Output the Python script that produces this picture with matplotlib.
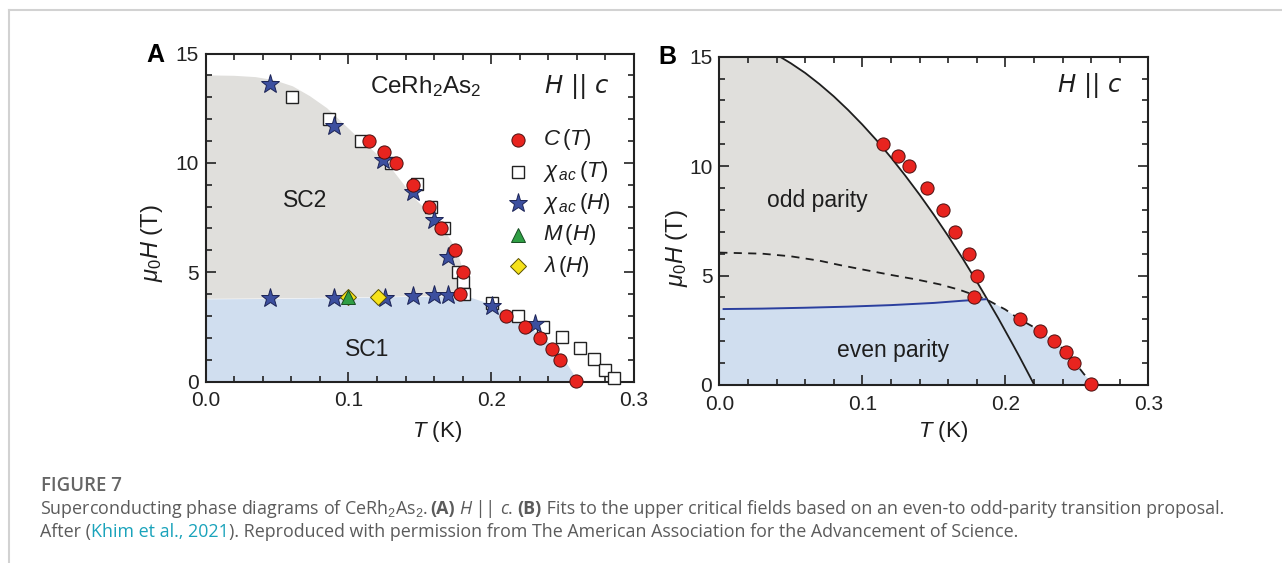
import matplotlib
matplotlib.use('Agg')
import matplotlib.pyplot as plt
from matplotlib.ticker import MultipleLocator, FormatStrFormatter

plt.rcParams['font.family'] = ['Liberation Sans', 'DejaVu Sans']
plt.rcParams['mathtext.fontset'] = 'custom'
plt.rcParams['mathtext.rm'] = 'Liberation Sans'
plt.rcParams['mathtext.it'] = 'Liberation Sans:italic'
plt.rcParams['mathtext.bf'] = 'Liberation Sans:bold'

# ---------------- data (T in K, mu0H in T) ----------------
C_T = [0.1147, 0.1250, 0.1330, 0.1450, 0.1566, 0.1650, 0.1748, 0.1805, 0.1780,
       0.2100, 0.2240, 0.2340, 0.2425, 0.2483, 0.2596]
C_H = [11.0, 10.48, 10.0, 8.98, 7.99, 7.0, 6.0, 4.99, 4.0, 3.0, 2.49, 2.0, 1.5, 1.0, 0.03]

chiT_T = [0.0603, 0.0867, 0.1090, 0.1297, 0.1480, 0.1580, 0.1666, 0.1765, 0.1800,
          0.1807, 0.2005, 0.2188, 0.2363, 0.2496, 0.2620, 0.2718, 0.2800, 0.2858]
chiT_H = [13.0, 12.0, 11.0, 9.98, 9.02, 8.0, 7.0, 5.02, 4.53, 4.0, 3.6, 3.0, 2.5,
          2.02, 1.52, 1.01, 0.53, 0.15]

chiH_T = [0.045, 0.090, 0.1245, 0.145, 0.1596, 0.170, 0.045, 0.090, 0.1257, 0.145,
          0.1596, 0.170, 0.2005, 0.2305]
chiH_H = [13.6, 11.68, 10.13, 8.65, 7.38, 5.71, 3.82, 3.82, 3.82, 3.91, 3.95, 3.95,
          3.45, 2.63]

M_T = [0.100]
M_H = [3.88]
lam_T = [0.100, 0.1206]
lam_H = [3.85, 3.86]

# panel A phase regions
A_sc1_top_T = [0.0, 0.05, 0.10, 0.15, 0.184, 0.195, 0.21, 0.225, 0.24, 0.25, 0.257, 0.260]
A_sc1_top_H = [3.78, 3.80, 3.84, 3.90, 3.88, 3.65, 3.2, 2.6, 1.8, 1.1, 0.4, 0.0]
A_sc2_edge_T = [0.0, 0.02, 0.035, 0.048, 0.061, 0.073, 0.085, 0.106, 0.127, 0.146,
                0.1655, 0.176, 0.1835, 0.184]
A_sc2_edge_H = [14.0, 13.98, 13.92, 13.78, 13.5, 13.05, 12.5, 11.2, 10.0, 8.4,
                7.1, 6.0, 4.4, 3.88]

# panel B fit curves
B_odd_T = [0.0424, 0.05, 0.06, 0.07, 0.08, 0.09, 0.10, 0.11, 0.12, 0.13, 0.14, 0.15,
           0.16, 0.17, 0.18, 0.185, 0.195, 0.20, 0.205, 0.21, 0.215, 0.2203]
B_odd_H = [15.0, 14.70, 14.26, 13.75, 13.19, 12.57, 11.90, 11.18, 10.40, 9.57, 8.70,
           7.78, 6.81, 5.80, 4.73, 4.18, 3.06, 2.47, 1.88, 1.28, 0.66, 0.0]
B_even_T = [0.0, 0.03, 0.05, 0.07, 0.085, 0.10, 0.12, 0.138, 0.154, 0.168, 0.1865,
            0.20, 0.21, 0.224, 0.234, 0.243, 0.249, 0.255, 0.262]
B_even_H = [6.05, 6.0, 5.88, 5.68, 5.47, 5.28, 5.03, 4.82, 4.6, 4.35, 3.92, 3.45,
            3.0, 2.5, 2.0, 1.5, 1.0, 0.5, 0.0]
B_trans_T = [0.003, 0.03, 0.06, 0.09, 0.12, 0.15, 0.17, 0.1865]
B_trans_H = [3.47, 3.49, 3.53, 3.58, 3.65, 3.75, 3.85, 3.92]

legend_labels = [r'$C\,(T)$', r'$\chi_{\,ac}\,(T)$', r'$\chi_{\,ac}\,(H)$',
                 r'$M\,(H)$', r'$\lambda\,(H)$']

# ---------------- styles ----------------
GRAY = '#e0dfdc'
BLUE = '#d0deef'
RED = '#e8241f'
STAR = '#3c4f9f'
GREEN = '#2f9e44'
YELLOW = '#f6e21a'

W, H = 1282, 563
fig = plt.figure(figsize=(W / 100, H / 100), dpi=100)


def px_axes(l, t, r, b):
    return fig.add_axes([l / W, 1 - b / H, (r - l) / W, (b - t) / H])


axA = px_axes(205.7, 53.5, 634.0, 381.5)
axB = px_axes(719.3, 56.7, 1148.3, 385.0)


def style(ax):
    ax.set_xlim(0, 0.3)
    ax.set_ylim(0, 15)
    ax.xaxis.set_major_locator(MultipleLocator(0.1))
    ax.xaxis.set_minor_locator(MultipleLocator(0.02))
    ax.yaxis.set_major_locator(MultipleLocator(5))
    ax.yaxis.set_minor_locator(MultipleLocator(1))
    ax.xaxis.set_major_formatter(FormatStrFormatter('%.1f'))
    ax.yaxis.set_major_formatter(FormatStrFormatter('%d'))
    ax.tick_params(which='both', direction='in', top=True, right=True,
                   width=1.2, color='#222222', labelsize=15, labelcolor='#222222')
    ax.tick_params(which='major', length=7)
    ax.tick_params(which='minor', length=4)
    ax.tick_params(axis='x', pad=7)
    ax.tick_params(axis='y', pad=5)
    for s in ax.spines.values():
        s.set_linewidth(1.5)
        s.set_color('#222222')


style(axA)
style(axB)

HC_FONT = ['DejaVu Sans']

# ---------------- panel A ----------------
axA.fill_between(A_sc1_top_T, 0, A_sc1_top_H, color=BLUE, lw=0, zorder=0)
sc2_x = list(A_sc2_edge_T) + [A_sc1_top_T[i] for i in range(4, -1, -1)]
sc2_y = list(A_sc2_edge_H) + [A_sc1_top_H[i] for i in range(4, -1, -1)]
axA.fill(sc2_x, sc2_y, color=GRAY, lw=0, zorder=0)

axA.plot(chiT_T, chiT_H, ls='none', marker='s', ms=8, mfc='white', mec='#222222',
         mew=1.0, zorder=3, clip_on=False)
axA.plot(chiH_T, chiH_H, ls='none', marker='*', ms=14, mfc=STAR, mec='#1c2456',
         mew=0.7, zorder=4, clip_on=False)
axA.plot(C_T, C_H, ls='none', marker='o', ms=9.5, mfc=RED, mec='#4a1010',
         mew=0.7, zorder=5, clip_on=False)
axA.plot(lam_T, lam_H, ls='none', marker='D', ms=8.5, mfc=YELLOW, mec='#5a5000',
         mew=0.7, zorder=6, clip_on=False)
axA.plot(M_T, M_H, ls='none', marker='^', ms=10, mfc=GREEN, mec='#174d22',
         mew=0.7, zorder=7, clip_on=False)

axA.text(0.513, 0.90, r'CeRh$_2$As$_2$', transform=axA.transAxes, ha='center',
         va='center', fontsize=17.5, color='#1e1e1e')
axA.text(0.867, 0.90, 'H || c', transform=axA.transAxes, ha='center', va='center',
         fontsize=17.5, style='oblique', family=HC_FONT, color='#1e1e1e')
axA.text(0.232, 0.553, 'SC2', transform=axA.transAxes, ha='center', va='center',
         fontsize=16.5, color='#1e1e1e')
axA.text(0.377, 0.099, 'SC1', transform=axA.transAxes, ha='center', va='center',
         fontsize=16.5, color='#1e1e1e')

# legend (manual)
leg_styles = [dict(marker='o', ms=9.5, mfc=RED, mec='#4a1010', mew=0.7),
              dict(marker='s', ms=8, mfc='white', mec='#222222', mew=1.0),
              dict(marker='*', ms=14, mfc=STAR, mec='#1c2456', mew=0.7),
              dict(marker='^', ms=10, mfc=GREEN, mec='#174d22', mew=0.7),
              dict(marker='D', ms=8.5, mfc=YELLOW, mec='#5a5000', mew=0.7)]
for i, (lab, st) in enumerate(zip(legend_labels, leg_styles)):
    ypix = 140 + 31.6 * i
    yf = (381.5 - ypix) / 328.0
    axA.plot([0.729], [yf], ls='none', transform=axA.transAxes, clip_on=False, **st)
    axA.text(0.7875, yf, lab, transform=axA.transAxes, ha='left', va='center',
             fontsize=16, color='#1e1e1e')

# ---------------- panel B ----------------
cross_i = B_odd_T.index(0.185)
g_x = [0.0, 0.0] + B_odd_T[:cross_i + 1] + B_trans_T[::-1] + [0.0]
g_y = [B_trans_H[0], 15.0] + B_odd_H[:cross_i + 1] + B_trans_H[::-1] + [B_trans_H[0]]
axB.fill(g_x, g_y, color=GRAY, lw=0, zorder=0)
k = B_even_T.index(0.1865)
b_x = [0.0, 0.0] + B_trans_T + B_even_T[k + 1:]
b_y = [0.0, B_trans_H[0]] + B_trans_H + B_even_H[k + 1:]
axB.fill(b_x, b_y, color=BLUE, lw=0, zorder=0)

axB.plot(B_odd_T, B_odd_H, color='#1e1e1e', lw=1.3, zorder=2)
axB.plot(B_even_T, B_even_H, color='#1e1e1e', lw=1.3, ls=(0, (4.5, 3.5)), zorder=2)
axB.plot(B_trans_T, B_trans_H, color='#2b3f9e', lw=1.4, zorder=2)
axB.plot(C_T, C_H, ls='none', marker='o', ms=9.5, mfc=RED, mec='#4a1010',
         mew=0.7, zorder=5, clip_on=False)

axB.text(0.864, 0.911, 'H || c', transform=axB.transAxes, ha='center', va='center',
         fontsize=17.5, style='oblique', family=HC_FONT, color='#1e1e1e')
axB.text(0.2296, 0.563, 'odd parity', transform=axB.transAxes, ha='center',
         va='center', fontsize=16.5, color='#1e1e1e')
axB.text(0.405, 0.1066, 'even parity', transform=axB.transAxes, ha='center',
         va='center', fontsize=16.5, color='#1e1e1e')

# axis labels / panel letters
for (x, y) in [(152, 243), (677, 248)]:
    fig.text(x / W, 1 - y / H, r'$\mu_0H$ (T)', rotation=90, ha='center', va='center',
             fontsize=17, color='#1e1e1e')
for (x, y) in [(437, 432), (943, 432)]:
    fig.text(x / W, 1 - y / H, r'$T$ (K)', ha='center', va='center', fontsize=16,
             color='#1e1e1e')
fig.text(155 / W, 1 - 55 / H, 'A', ha='center', va='center', fontsize=18, weight='bold')
fig.text(667 / W, 1 - 57 / H, 'B', ha='center', va='center', fontsize=18, weight='bold')

# page frame lines
fig.add_artist(plt.Line2D([9 / W, 1], [1 - 9.5 / H, 1 - 9.5 / H], color='#d2d2d2', lw=1.5))
fig.add_artist(plt.Line2D([9 / W, 9 / W], [0, 1 - 9.5 / H], color='#d2d2d2', lw=1.5))

# ---------------- caption ----------------
CAP = ['Open Sans', 'DejaVu Sans']
TXT = '#5b5b5b'
LINK = '#1aa3bb'
renderer = fig.canvas.get_renderer()


def width_px(s, size, **kw):
    t = fig.text(0, 0, '|' + s + '|', fontsize=size, family=CAP, **kw)
    t2 = fig.text(0, 0, '||', fontsize=size, family=CAP, **kw)
    w = t.get_window_extent(renderer).width - t2.get_window_extent(renderer).width
    t.remove()
    t2.remove()
    return w


def place(pieces, x0, ybase, size):
    x = x0
    for s, kw in pieces:
        fig.text(x / W, 1 - ybase / H, s, fontsize=size, family=CAP, va='baseline',
                 ha='left', **kw)
        x += width_px(s, size, **kw)
    return x


N = dict(color=TXT)
line1 = [("Superconducting phase diagrams of CeRh$_2$As$_2$. ", N),
         ("(A)", dict(color=TXT, weight='bold')), (" ", N),
         ("H", dict(color=TXT, style='italic')), (" || ", N),
         ("c", dict(color=TXT, style='italic')), (". ", N),
         ("(B)", dict(color=TXT, weight='bold')),
         (" Fits to the upper critical fields based on an even-to odd-parity transition proposal.", N)]
line2 = [("After (", N), ("Khim et al., 2021", dict(color=LINK)),
         ("). Reproduced with permission from The American Association for the Advancement of Science.", N)]

base = 12.0
tot = sum(width_px(s, base, **kw) for s, kw in line1)
size = base * 1180.0 / tot
place(line1, 40, 514, size)
place(line2, 40, 537, size)

fw = width_px('FIGURE 7', 12.0, color='#666666', weight='semibold')
fig.text(41 / W, 1 - 491 / H, 'FIGURE 7', fontsize=12.0 * 81.0 / fw, family=CAP,
         color='#666666', weight='semibold', va='baseline', ha='left')

fig.savefig('out.png', dpi=100)
